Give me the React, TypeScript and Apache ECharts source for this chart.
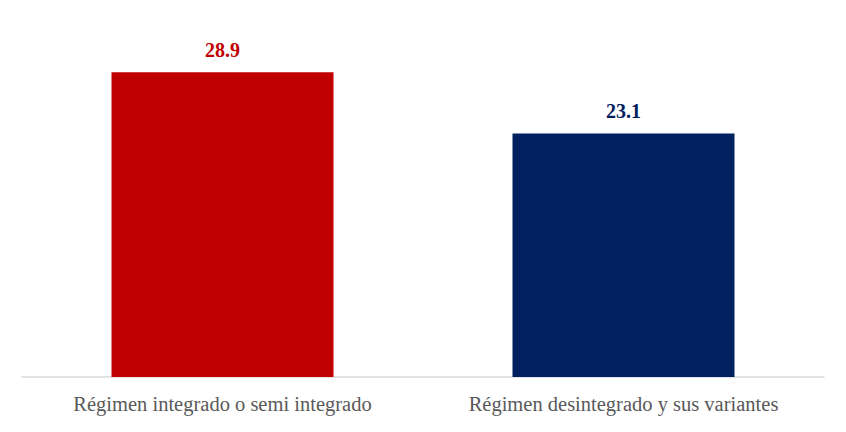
import React, { useEffect, useRef } from 'react';
import * as echarts from 'echarts';

const categories = ['Régimen integrado o semi integrado', 'Régimen desintegrado y sus variantes'];
const values = [28.9, 23.1];
const barColors = ['#C00000', '#002060'];

const App = () => {
  const chartRef = useRef<HTMLDivElement>(null);

  useEffect(() => {
    document.body.style.margin = '0';
    let chart: echarts.ECharts | null = null;
    if (chartRef.current) {
      chart = echarts.init(chartRef.current, null, { renderer: 'svg' });
      const font = '"Liberation Serif", "DejaVu Serif", serif';
      const option: echarts.EChartsOption = {
        animation: false,
        grid: { left: 22, right: 22, top: 8, bottom: 55, containLabel: false },
        xAxis: {
          type: 'category',
          data: categories,
          axisLine: { lineStyle: { color: '#D9D9D9', width: 1.5 } },
          axisTick: { show: false },
          axisLabel: {
            color: '#595959',
            fontSize: 20.5,
            fontFamily: font,
            margin: 16,
            interval: 0,
            hideOverlap: false,
          },
        },
        yAxis: {
          type: 'value',
          min: 0,
          max: 35,
          show: false,
          splitLine: { show: false },
        },
        series: [
          {
            type: 'bar',
            barWidth: 222,
            data: values.map((v, i) => ({ value: v, itemStyle: { color: barColors[i] } })),
            label: {
              show: true,
              position: 'top',
              distance: 12,
              fontSize: 20,
              fontWeight: 'bold',
              fontFamily: font,
              color: 'inherit',
              formatter: (p: any) => p.value.toFixed(1),
            },
          },
        ],
      };
      chart.setOption(option);
    }
    return () => {
      chart?.dispose();
    };
  }, []);

  return <div ref={chartRef} style={{ width: '846px', height: '432px', background: '#fff' }} />;
};

export default App;
